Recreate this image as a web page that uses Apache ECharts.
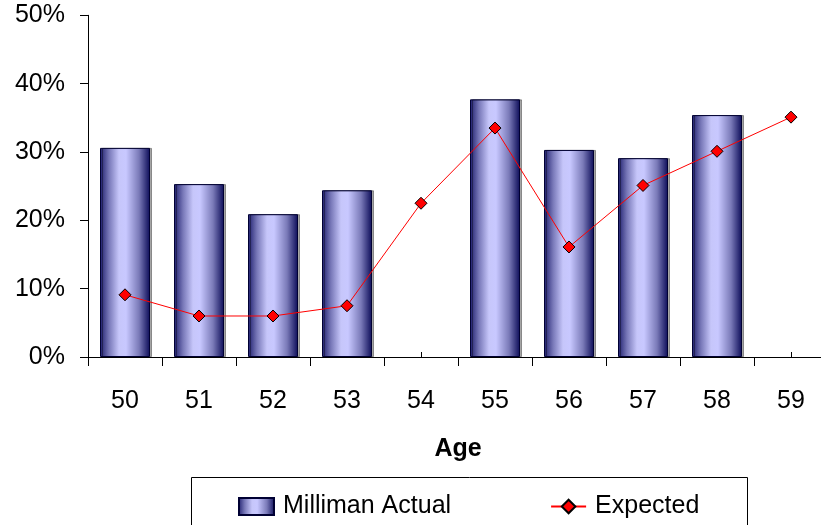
<!DOCTYPE html>
<html>
<head>
<meta charset="utf-8">
<script src="https://cdn.jsdelivr.net/npm/echarts@6/dist/echarts.min.js"></script>
<style>
  html, body { margin: 0; padding: 0; background: #fff; overflow: hidden; }
  /* plot area runs slightly past the right edge of the window */
  #chart { width: 832px; height: 525px; }
</style>
</head>
<body>
<div id="chart"></div>
<script>
// Ages along the category axis
const ages = ['50', '51', '52', '53', '54', '55', '56', '57', '58', '59'];
// Observed rates (percent); no observation for 54 and 59
const millimanActual = [30.6, 25.3, 20.9, 24.4, null, 37.7, 30.3, 29.1, 35.4, null];
// Expected rates (percent)
const expected = [9.1, 6.0, 6.0, 7.5, 22.5, 33.5, 16.1, 25.1, 30.1, 35.1];
// Value axis ticks (percent)
const yTicks = { min: 0, max: 50, step: 10 };

const font = '"Liberation Sans", Arial, sans-serif';

const barFill = new echarts.graphic.LinearGradient(0, 0, 1, 0, [
  { offset: 0, color: '#1c1c6c' },
  { offset: 0.18, color: '#7878b8' },
  { offset: 0.38, color: '#c6c6fa' },
  { offset: 0.52, color: '#c8c8ff' },
  { offset: 0.78, color: '#7a7ab8' },
  { offset: 1, color: '#0c0c58' }
]);

const chart = echarts.init(document.getElementById('chart'), null, { renderer: 'canvas' });

chart.setOption({
  backgroundColor: '#ffffff',
  animation: false,
  grid: { left: 88, top: 15.3, width: 740, height: 341.7, containLabel: false },
  legend: {
    left: 233,
    top: 489,
    itemWidth: 35,
    itemHeight: 17,
    itemGap: 99,
    textStyle: { fontFamily: font, fontSize: 25, color: '#000', padding: [0, 0, 0, 4] },
    data: [
      { name: 'Milliman Actual', icon: 'rect' },
      { name: 'Expected' }
    ]
  },
  graphic: [{
    type: 'rect',
    shape: { x: 191.5, y: 477.5, width: 556, height: 60 },
    style: { fill: 'none', stroke: '#000', lineWidth: 1 },
    z: 0
  }],
  xAxis: [{
    type: 'category',
    data: ages,
    boundaryGap: true,
    axisLine: { lineStyle: { color: '#000', width: 1 } },
    axisTick: { show: true, inside: false, length: 9, lineStyle: { color: '#000' } },
    axisLabel: { fontFamily: font, fontSize: 25, color: '#000', margin: 32 },
    name: 'Age',
    nameLocation: 'middle',
    nameGap: 80,
    nameTextStyle: { fontFamily: font, fontSize: 25, fontWeight: 'bold', color: '#000' },
    splitLine: { show: false }
  }, {
    // second category scale: short inner ticks at each category centre
    type: 'category',
    data: ages,
    position: 'bottom',
    boundaryGap: true,
    axisLine: { show: false },
    axisTick: { show: true, inside: true, length: 5, alignWithLabel: true, lineStyle: { color: '#000' } },
    axisLabel: { show: false },
    splitLine: { show: false }
  }],
  yAxis: {
    type: 'value',
    min: yTicks.min,
    max: yTicks.max,
    interval: yTicks.step,
    axisLine: { show: true, lineStyle: { color: '#000', width: 1 } },
    axisTick: { show: true, inside: false, length: 8, lineStyle: { color: '#000' } },
    axisLabel: { fontFamily: font, fontSize: 25, color: '#000', margin: 23, formatter: '{value}%' },
    splitLine: { show: false }
  },
  series: [{
    name: 'Milliman Actual',
    type: 'bar',
    xAxisIndex: 0,
    data: millimanActual,
    barWidth: 50,
    itemStyle: {
      color: barFill,
      borderColor: '#000033',
      borderWidth: 1,
      shadowColor: 'rgba(0,0,0,0.35)',
      shadowOffsetX: 2,
      shadowOffsetY: 0,
      shadowBlur: 0
    },
    z: 2
  }, {
    name: 'Expected',
    type: 'line',
    xAxisIndex: 1,
    data: expected,
    symbol: 'diamond',
    symbolSize: 12,
    lineStyle: { color: '#ff0000', width: 1 },
    itemStyle: { color: '#ff0000', borderColor: '#000', borderWidth: 1 },
    z: 5
  }]
});
</script>
</body>
</html>
